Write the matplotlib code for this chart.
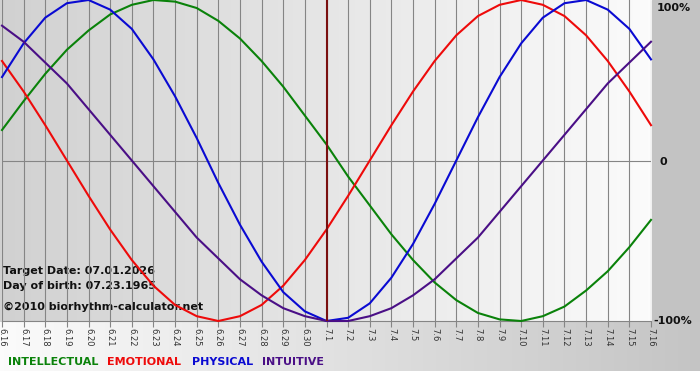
import matplotlib
matplotlib.use("Agg")
import matplotlib.pyplot as plt
import numpy as np

# ---- data ----
days = ["6.16", "6.17", "6.18", "6.19", "6.20", "6.21", "6.22", "6.23", "6.24", "6.25",
        "6.26", "6.27", "6.28", "6.29", "6.30", "7.1", "7.2", "7.3", "7.4", "7.5",
        "7.6", "7.7", "7.8", "7.9", "7.10", "7.11", "7.12", "7.13", "7.14", "7.15", "7.16"]

intellectual = [0.19, 0.37, 0.54, 0.69, 0.81, 0.91, 0.97, 1.00, 0.99, 0.95,
                0.87, 0.76, 0.62, 0.46, 0.28, 0.10, -0.10, -0.28, -0.46, -0.62,
                -0.76, -0.87, -0.95, -0.99, -1.00, -0.97, -0.91, -0.81, -0.69, -0.54, -0.37]

emotional = [0.62, 0.43, 0.22, 0.00, -0.22, -0.43, -0.62, -0.78, -0.90, -0.97,
             -1.00, -0.97, -0.90, -0.78, -0.62, -0.43, -0.22, 0.00, 0.22, 0.43,
             0.62, 0.78, 0.90, 0.97, 1.00, 0.97, 0.90, 0.78, 0.62, 0.43, 0.22]

physical = [0.52, 0.73, 0.89, 0.98, 1.00, 0.94, 0.82, 0.63, 0.40, 0.14,
            -0.14, -0.40, -0.63, -0.82, -0.94, -1.00, -0.98, -0.89, -0.73, -0.52,
            -0.27, 0.00, 0.27, 0.52, 0.73, 0.89, 0.98, 1.00, 0.94, 0.82, 0.63]

intuitive = [0.84, 0.74, 0.61, 0.48, 0.32, 0.16, 0.00, -0.16, -0.32, -0.48,
             -0.61, -0.74, -0.84, -0.92, -0.97, -1.00, -1.00, -0.97, -0.92, -0.84,
             -0.74, -0.61, -0.48, -0.32, -0.16, 0.00, 0.16, 0.32, 0.48, 0.61, 0.74]

target_day = "7.1"
series_names = ["INTELLECTUAL", "EMOTIONAL", "PHYSICAL", "INTUITIVE"]
y_labels = ["100%", "0", "-100%"]

# ---- styles ----
C_INT = "#0a820a"
C_EMO = "#ee0a0a"
C_PHY = "#0a0ad2"
C_ITU = "#4a0f86"
colors = [C_INT, C_EMO, C_PHY, C_ITU]

W, H = 700, 380
fig = plt.figure(figsize=(W / 100, H / 100), dpi=100)
fig.patch.set_facecolor("white")

# background axes in pixel coordinates
bg = fig.add_axes([0, 0, 1, 1])
bg.set_xlim(0, W)
bg.set_ylim(H, 0)
bg.axis("off")

PL, PR, PT, PB = 2, 651, 0, 321

# plot area gradient (left grey -> right near white)
g = np.linspace(0.82, 0.985, 256)[None, :]
bg.imshow(np.dstack([g, g, g]), extent=[0, PR + 1, PB + 1, 0], aspect="auto", zorder=0,
          interpolation="bilinear")
# right panel
bg.add_patch(plt.Rectangle((PR + 1, 0), W - PR - 1, PB + 1, color="#c3c3c3", zorder=0))
# bottom band gradient (left white -> right grey)
g2 = np.linspace(0.985, 0.77, 256)[None, :]
bg.imshow(np.dstack([g2, g2, g2]), extent=[0, W, 371, PB + 1], aspect="auto", zorder=0,
          interpolation="bilinear")

# main axes
ax = fig.add_axes([PL / W, 1 - PB / H, (PR - PL) / W, (PB - PT) / H])
ax.patch.set_alpha(0)
x = np.arange(len(days))
ax.set_xlim(0, len(days) - 1)
ax.set_ylim(-1, 1)

for xi in x:
    ax.axvline(xi, color="#858585", lw=0.8, zorder=1)
ax.axhline(0, color="#858585", lw=0.8, zorder=1)

for vals, c in zip([intellectual, emotional, physical, intuitive], colors):
    ax.plot(x, vals, color=c, lw=1.5, zorder=3, solid_joinstyle="round", clip_on=False)

ti = days.index(target_day)
ax.axvline(ti, color="#7a1010", lw=1.5, zorder=4)

for s in ["top", "right", "left"]:
    ax.spines[s].set_visible(False)
ax.spines["bottom"].set_color("#858585")
ax.spines["bottom"].set_linewidth(0.8)
ax.set_xticks(x)
ax.set_xticklabels(days, rotation=-90, fontsize=6, color="#333333", family="DejaVu Sans")
ax.tick_params(axis="x", length=4, color="#858585", pad=1)
ax.set_yticks([])

# right labels
bg.text(657, 8, y_labels[0], fontsize=8, fontweight="bold", color="#111111",
        va="center", ha="left", family="DejaVu Sans", zorder=5)
bg.text(659, 162, y_labels[1], fontsize=8, fontweight="bold", color="#111111",
        va="center", ha="left", family="DejaVu Sans", zorder=5)
bg.text(653, 321, y_labels[2], fontsize=8, fontweight="bold", color="#111111",
        va="center", ha="left", family="DejaVu Sans", zorder=5)

# info texts
info = ["Target Date: 07.01.2026", "Day of birth: 07.23.1965", "\u00a92010 biorhythm-calculator.net"]
info_y = [271, 286, 307]
for t, yy in zip(info, info_y):
    bg.text(3, yy, t, fontsize=8, fontweight="bold", color="#111111", va="center",
            ha="left", family="DejaVu Sans", zorder=6)

# legend words
leg_x = [8, 107, 192, 262]
for name, c, xx in zip(series_names, colors, leg_x):
    bg.text(xx, 362, name, fontsize=8, fontweight="bold", color=c, va="center",
            ha="left", family="DejaVu Sans", zorder=6)

fig.savefig("out.png", dpi=100)
